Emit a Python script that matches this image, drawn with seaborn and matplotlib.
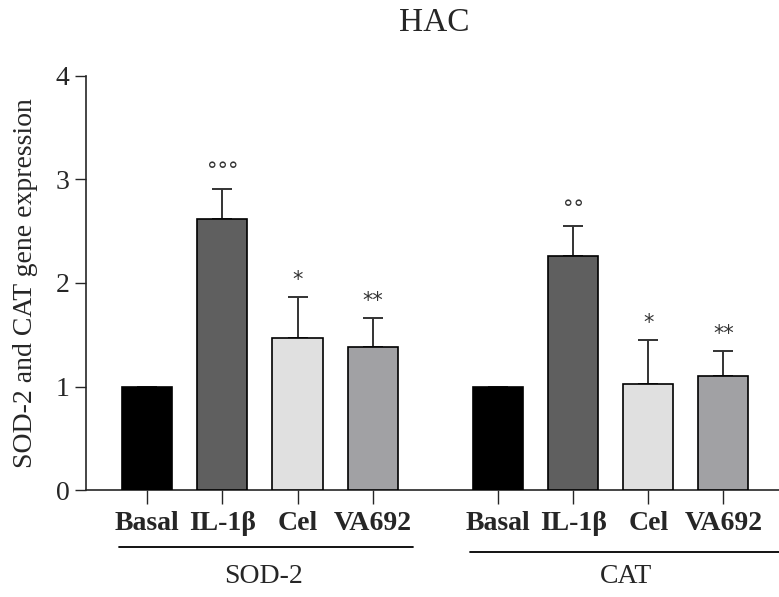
import numpy as np
import pandas as pd
import matplotlib
matplotlib.use('Agg')
import matplotlib.pyplot as plt
import seaborn as sns

# data
conditions = ['Basal', 'IL-1β', 'Cel', 'VA692']
genes = ['SOD-2', 'CAT']
sod2_mean = [1.00, 2.62, 1.47, 1.38]
sod2_sd = [0.00, 0.29, 0.39, 0.28]
cat_mean = [1.00, 2.26, 1.02, 1.10]
cat_sd = [0.00, 0.29, 0.43, 0.24]
sod2_marks = ['', '°°°', '*', '**']
cat_marks = ['', '°°', '*', '**']
bar_colors = ['#000000', '#5f5f5f', '#e0e0e0', '#a0a0a5']

group_gap = 4.67
pos = [i for i in range(4)] + [group_gap + i for i in range(4)]

df = pd.DataFrame({
    'pos': pos,
    'mean': sod2_mean + cat_mean,
    'sd': sod2_sd + cat_sd,
    'cond': conditions * 2,
    'mark': sod2_marks + cat_marks,
})

sns.set_style('ticks')
plt.rcParams['font.family'] = ['Liberation Serif', 'DejaVu Serif']

fig = plt.figure(figsize=(7.79, 5.97), dpi=100)
ax = fig.add_axes([0.110, 0.179, 0.89, 0.694])

sns.barplot(data=df, x='pos', y='mean', hue='cond', palette=bar_colors,
            hue_order=conditions, dodge=False, native_scale=True,
            width=0.667, edgecolor='black', linewidth=1.2, legend=False,
            errorbar=None, ax=ax, zorder=3)

ax.errorbar(df['pos'], df['mean'], yerr=[np.zeros(len(df)), df['sd']],
            fmt='none', ecolor='#333333', elinewidth=1.4, capsize=7,
            capthick=1.4, zorder=2)

for p, m, s, mk in zip(df['pos'], df['mean'], df['sd'], df['mark']):
    if mk:
        ax.text(p, m + s + 0.07, mk, ha='center', va='bottom', fontsize=15,
                color='#333333', family=['DejaVu Sans'])

xmax = pos[-1] + 0.74
ax.set_ylim(0, 4)
ax.set_yticks([0, 1, 2, 3, 4])
ax.set_xlim(-0.82, xmax)
ax.set_xticks(pos)
ax.set_xticklabels(conditions * 2, fontsize=20, fontweight='bold')
ax.tick_params(axis='x', length=10, width=1, pad=5)
ax.tick_params(axis='y', length=8, width=1, labelsize=20)
ax.set_xlabel('')
ax.set_ylabel('SOD-2 and CAT gene expression', fontsize=20, labelpad=13)
sns.despine(ax=ax)
for sp in ['left', 'bottom']:
    ax.spines[sp].set_linewidth(1.2)

# group lines and labels under the tick labels
trans = ax.get_xaxis_transform()
line_spans = [(-0.37, 3.54), (group_gap - 0.38, xmax)]
line_y = [-0.137, -0.150]
label_x = [1.55, group_gap + 1.7]
for (x0, x1), ly, lx, g in zip(line_spans, line_y, label_x, genes):
    ax.plot([x0, x1], [ly, ly], transform=trans,
            color='black', lw=1.3, clip_on=False)
    ax.text(lx, -0.225, g, transform=trans, ha='center', va='baseline',
            fontsize=20)

fig.text(0.558, 0.962, 'HAC', ha='center', va='center', fontsize=24)

fig.savefig('out.png', dpi=100)
